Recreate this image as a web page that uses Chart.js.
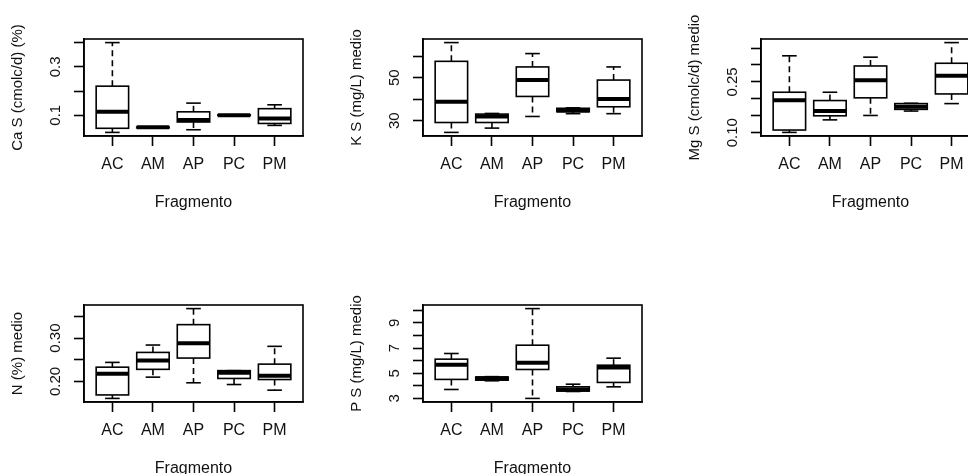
<!DOCTYPE html>
<html><head><meta charset="utf-8">
<script src="https://cdn.jsdelivr.net/npm/chart.js@4"></script>
<style>
html,body{margin:0;padding:0;background:#fff;overflow:hidden;width:968px;height:474px;position:relative;}
canvas{position:absolute;}
</style></head><body>
<canvas id="c0" width="338" height="266" style="left:0;top:0"></canvas>
<canvas id="c1" width="338" height="266" style="left:339px;top:0"></canvas>
<canvas id="c2" width="338" height="266" style="left:677px;top:0"></canvas>
<canvas id="c3" width="338" height="266" style="left:0;top:266px"></canvas>
<canvas id="c4" width="338" height="266" style="left:339px;top:266px"></canvas>
<script>
const categories = ['AC', 'AM', 'AP', 'PC', 'PM'];
const xTitle = 'Fragmento';

// Ca S (cmolc/d) (%)
const caMin = [0.029, 0.047, 0.040, 0.098, 0.058];
const caQ1  = [0.046, 0.048, 0.072, 0.099, 0.066];
const caMed = [0.114, 0.050, 0.080, 0.100, 0.086];
const caQ3  = [0.220, 0.051, 0.114, 0.101, 0.127];
const caMax = [0.400, 0.052, 0.150, 0.102, 0.143];
const caTicks = [0.1, 0.2, 0.3, 0.4];
const caTickLabels = ['0.1', '', '0.3', ''];

// K S (mg/L) medio
const kMin = [24.6, 26.6, 32.0, 33.3, 33.3];
const kQ1  = [29.2, 29.2, 41.3, 34.2, 36.5];
const kMed = [38.8, 32.0, 48.9, 34.8, 40.1];
const kQ3  = [57.6, 33.1, 55.0, 35.8, 48.9];
const kMax = [66.3, 33.4, 61.2, 36.0, 55.0];
const kTicks = [30, 40, 50, 60];
const kTickLabels = ['30', '', '50', ''];

// Mg S (cmolc/d) medio
const mgMin = [0.101, 0.138, 0.151, 0.164, 0.186];
const mgQ1  = [0.108, 0.150, 0.203, 0.169, 0.2145];
const mgMed = [0.196, 0.164, 0.255, 0.177, 0.268];
const mgQ3  = [0.2195, 0.195, 0.297, 0.186, 0.305];
const mgMax = [0.327, 0.2195, 0.323, 0.187, 0.366];
const mgTicks = [0.10, 0.15, 0.20, 0.25, 0.30, 0.35];
const mgTickLabels = ['0.10', '', '', '0.25', '', ''];

// N (%) medio
const nMin = [0.161, 0.210, 0.197, 0.193, 0.180];
const nQ1  = [0.169, 0.228, 0.254, 0.207, 0.2045];
const nMed = [0.218, 0.2485, 0.288, 0.220, 0.213];
const nQ3  = [0.233, 0.267, 0.331, 0.225, 0.240];
const nMax = [0.244, 0.284, 0.368, 0.225, 0.281];
const nTicks = [0.20, 0.25, 0.30, 0.35];
const nTickLabels = ['0.20', '', '0.30', ''];

// P S (mg/L) medio
const pMin = [3.71, 4.40, 3.00, 3.55, 3.92];
const pQ1  = [4.51, 4.45, 5.30, 3.58, 4.27];
const pMed = [5.67, 4.60, 5.83, 3.71, 5.46];
const pQ3  = [6.12, 4.70, 7.23, 3.92, 5.64];
const pMax = [6.57, 4.73, 10.14, 4.13, 6.20];
const pTicks = [3, 4, 5, 6, 7, 8, 9, 10];
const pTickLabels = ['3', '', '5', '', '7', '', '9', ''];

const FONT = '"Liberation Sans", Arial, Helvetica, sans-serif';

function makeBoxPlugin(mins, q1s, meds, q3s, maxs, tickLabels) {
  return {
    id: 'boxes',
    afterDatasetsDraw(chart) {
      const ctx = chart.ctx;
      const a = chart.chartArea;
      const x = chart.scales.x, y = chart.scales.y;
      ctx.save();
      ctx.strokeStyle = '#000';
      ctx.lineCap = 'butt';
      ctx.lineWidth = 1.6;
      ctx.strokeRect(a.left, a.top, a.right - a.left, a.bottom - a.top);
      const seg = (x1, y1, x2, y2) => { ctx.beginPath(); ctx.moveTo(x1, y1); ctx.lineTo(x2, y2); ctx.stroke(); };
      for (let i = 0; i < categories.length; i++) {
        const xc = x.getPixelForValue(i + 1);
        const hw = x.getPixelForValue(i + 1.4) - xc;
        const sw = hw * 0.45;
        const pMn = y.getPixelForValue(mins[i]);
        const pA = y.getPixelForValue(q1s[i]);
        const pM = y.getPixelForValue(meds[i]);
        const pB = y.getPixelForValue(q3s[i]);
        const pMx = y.getPixelForValue(maxs[i]);
        ctx.lineWidth = 1.6;
        ctx.setLineDash([6, 4]);
        seg(xc, pB, xc, pMx);
        seg(xc, pA, xc, pMn);
        ctx.setLineDash([]);
        seg(xc - sw, pMx, xc + sw, pMx);
        seg(xc - sw, pMn, xc + sw, pMn);
        ctx.strokeRect(xc - hw, pB, 2 * hw, pA - pB);
        ctx.lineWidth = 4;
        seg(xc - hw, pM, xc + hw, pM);
      }
      ctx.font = '15px ' + FONT;
      ctx.fillStyle = '#111';
      ctx.textAlign = 'center';
      ctx.textBaseline = 'middle';
      y.ticks.forEach((t, k) => {
        const lab = tickLabels[k];
        if (!lab) return;
        const py = y.getPixelForValue(t.value);
        ctx.save();
        ctx.translate(a.left - 28, py);
        ctx.rotate(-Math.PI / 2);
        ctx.fillText(lab, 0, 0);
        ctx.restore();
      });
      ctx.restore();
    }
  };
}

function makePanel(id, yTitle, mins, q1s, meds, q3s, maxs, ticks, tickLabels) {
  const lo = Math.min(...mins), hi = Math.max(...maxs);
  const pad = (hi - lo) * 0.04;
  new Chart(document.getElementById(id), {
    type: 'scatter',
    data: {
      datasets: [{
        data: meds.map((m, i) => ({ x: i + 1, y: m })),
        pointRadius: 0, showLine: false
      }]
    },
    options: {
      responsive: false,
      animation: false,
      events: [],
      layout: { padding: { left: 0, top: 39, right: 35, bottom: 54 } },
      plugins: { legend: { display: false }, tooltip: { enabled: false } },
      scales: {
        x: {
          type: 'linear', min: 0.3, max: 5.7,
          afterBuildTicks: s => { s.ticks = categories.map((c, i) => ({ value: i + 1 })); },
          afterFit: s => { s.height = 76; },
          ticks: {
            autoSkip: false, maxRotation: 0, minRotation: 0, padding: 9,
            color: '#111', font: { family: FONT, size: 16 },
            callback: v => categories[v - 1]
          },
          grid: { drawOnChartArea: false, drawTicks: true, tickLength: 10, tickColor: '#000', tickWidth: 1.6 },
          border: { display: true, color: '#000', width: 1.6 },
          title: { display: true, text: xTitle, color: '#111', font: { family: FONT, size: 16 }, padding: { top: 0, bottom: 0 } }
        },
        y: {
          type: 'linear', min: lo - pad, max: hi + pad,
          afterBuildTicks: s => { s.ticks = ticks.map(v => ({ value: v })); },
          afterFit: s => { s.width = 84; },
          ticks: { display: false },
          grid: { drawOnChartArea: false, drawTicks: true, tickLength: 10, tickColor: '#000', tickWidth: 1.6 },
          border: { display: true, color: '#000', width: 1.6 },
          title: { display: true, text: yTitle, color: '#111', font: { family: FONT, size: 15 }, padding: { top: 9, bottom: 0 } }
        }
      }
    },
    plugins: [makeBoxPlugin(mins, q1s, meds, q3s, maxs, tickLabels)]
  });
}

makePanel('c0', 'Ca S (cmolc/d) (%)', caMin, caQ1, caMed, caQ3, caMax, caTicks, caTickLabels);
makePanel('c1', 'K S (mg/L) medio', kMin, kQ1, kMed, kQ3, kMax, kTicks, kTickLabels);
makePanel('c2', 'Mg S (cmolc/d) medio', mgMin, mgQ1, mgMed, mgQ3, mgMax, mgTicks, mgTickLabels);
makePanel('c3', 'N (%) medio', nMin, nQ1, nMed, nQ3, nMax, nTicks, nTickLabels);
makePanel('c4', 'P S (mg/L) medio', pMin, pQ1, pMed, pQ3, pMax, pTicks, pTickLabels);
</script>
</body></html>
